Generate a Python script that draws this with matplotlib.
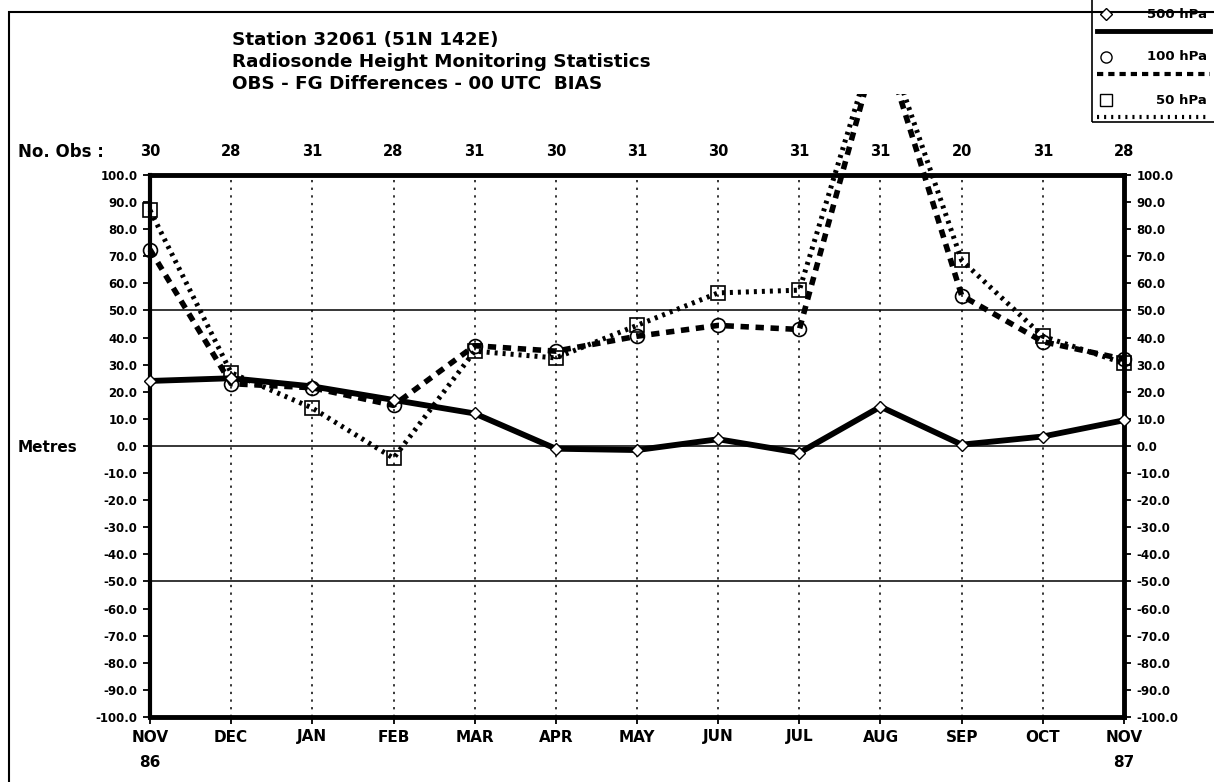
import numpy as np
import matplotlib.pyplot as plt
from matplotlib.lines import Line2D
from matplotlib.patches import Rectangle

plt.rcParams['font.family'] = ['DejaVu Sans']
plt.rcParams['font.weight'] = 'bold'

# data
months = ['NOV', 'DEC', 'JAN', 'FEB', 'MAR', 'APR', 'MAY', 'JUN',
          'JUL', 'AUG', 'SEP', 'OCT', 'NOV']
years = {0: '86', 12: '87'}
n_obs = [30, 28, 31, 28, 31, 30, 31, 30, 31, 31, 20, 31, 28]
bias_500 = [24, 25, 22, 17, 12, -1, -1.5, 2.5, -2.5, 14.5, 0.5, 3.5, 9.5]
bias_100 = [72.5, 23, 21.5, 15, 37, 35, 40.5, 44.5, 43, 152, 55.5, 38.5, 32]
bias_50 = [87, 27, 14, -4.5, 35, 32.5, 44.5, 56.5, 57.5, 155, 68.5, 40.5, 30.5]

W, H = 1214, 782


def px(x, y):
    return x / W, 1 - y / H


fig = plt.figure(figsize=(W / 100, H / 100), dpi=100)
ax = fig.add_axes([150 / W, 1 - 717 / H, (1124 - 150) / W, (717 - 175) / H])

x = np.arange(len(months))
ax.set_xlim(0, 12)
ax.set_ylim(-100, 100)

# grid
for m in x[1:-1]:
    ax.axvline(m, color='black', lw=1.1, ls=(0, (1.5, 3.5)), zorder=1)
for yv in (50, 0, -50):
    ax.axhline(yv, color='black', lw=1.1, zorder=1)

# clip region that lets the August peak run above the frame
clip = Rectangle((-0.3, -101), 12.6, 231, transform=ax.transData)

l1, = ax.plot(x, bias_500, color='black', lw=4.2, marker='D', ms=6,
              mfc='white', mec='black', mew=1, zorder=4)
l2, = ax.plot(x, bias_100, color='black', lw=4, ls=(0, (1.5, 1.2)),
              marker='o', ms=10, mfc='none', mec='black', mew=1.2, zorder=3)
l3, = ax.plot(x, bias_50, color='black', lw=3.6, ls=(0, (0.6, 1.0)),
              marker='s', ms=10, mfc='none', mec='black', mew=1.2, zorder=3)
for ln in (l1, l2, l3):
    ln.set_clip_path(clip)

# spines
ax.spines['top'].set_linewidth(3.5)
ax.spines['bottom'].set_linewidth(3.5)
ax.spines['left'].set_linewidth(3)
ax.spines['right'].set_linewidth(3.5)

yt = np.arange(-100, 101, 10)
ax.set_yticks(yt)
ax.set_yticklabels(['%.1f' % v for v in yt])
ax.tick_params(axis='y', which='both', left=True, right=True, labelleft=True,
               labelright=True, direction='out', length=5, width=1.3,
               labelsize=8.5, pad=4)
for t in ax.get_yticklabels():
    t.set_fontweight('bold')

ax.set_xticks(x)
ax.set_xticklabels(months)
ax.tick_params(axis='x', direction='out', length=5, width=1.3,
               labelsize=11, pad=4)
for t in ax.get_xticklabels():
    t.set_fontweight('bold')

for i, yr in years.items():
    ax.text(i, -114, yr, ha='center', va='top', fontsize=11,
            fontweight='bold', clip_on=False)

# obs counts row
for i, n in enumerate(n_obs):
    ax.text(i, 108.5, str(n), ha='center', va='center', fontsize=10.5,
            fontweight='bold', clip_on=False)
fig.text(*px(18, 152), 'No. Obs :', ha='left', va='center', fontsize=12,
         fontweight='bold')
fig.text(*px(18, 447), 'Metres', ha='left', va='center', fontsize=11,
         fontweight='bold')

# title
title = ['Station 32061 (51N 142E)',
         'Radiosonde Height Monitoring Statistics',
         'OBS - FG Differences - 00 UTC  BIAS']
for k, line in enumerate(title):
    fig.text(*px(232, 40 + 22 * k), line, ha='left', va='center',
             fontsize=13.2, fontweight='bold')

# outer frame
fig.add_artist(Rectangle(px(9, 800), 1240 / W, (800 - 12) / H,
                         transform=fig.transFigure, fill=False, lw=1.5,
                         ec='black'))

# legend box
fig.add_artist(Rectangle(px(1092, 122), 123 / W, 124 / H,
                         transform=fig.transFigure, fill=False, lw=1.2,
                         ec='black', fc='white'))
leg = [('500 hPa', 'D', '-', 3.5), ('100 hPa', 'o', (0, (1.5, 1.2)), 3),
       ('50 hPa', 's', (0, (0.5, 1.2)), 3)]
for k, (lab, mk, ls, lw) in enumerate(leg):
    ty = 14 + 43 * k
    mx, my = px(1106, ty)
    fig.add_artist(Line2D([mx], [my], marker=mk, ms=6 if mk == 'D' else 8,
                          mfc='white', mec='black', mew=1,
                          transform=fig.transFigure))
    fig.text(*px(1207, ty), lab, ha='right', va='center', fontsize=9.5,
             fontweight='bold')
    x0, yl = px(1097, ty + 17)
    x1, _ = px(1210, ty + 17)
    fig.add_artist(Line2D([x0, x1], [yl, yl], color='black', lw=lw, ls=ls,
                          transform=fig.transFigure))

fig.savefig('out.png', dpi=100)
